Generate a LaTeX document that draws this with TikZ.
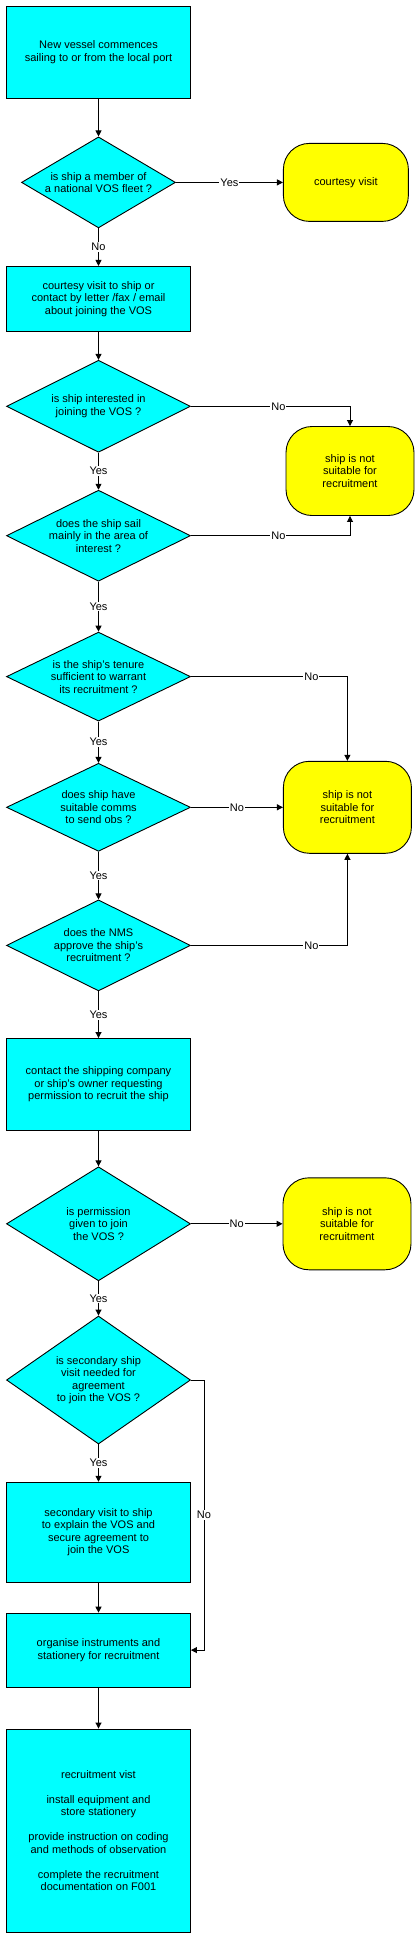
\documentclass[tikz,border=0pt]{standalone}
\usepackage{fontspec}
\setmainfont{Liberation Sans}
\usepackage{tikz}
\usetikzlibrary{arrows.meta,positioning,calc,shapes.geometric}
\definecolor{aqua}{RGB}{0,255,255}
\definecolor{lemon}{RGB}{255,255,0}

\begin{document}
\begin{tikzpicture}[font=\fontsize{11}{12.5}\selectfont,line width=0.9pt,
   act/.style={draw,fill=aqua,minimum width=184pt,inner sep=2pt,align=center},
   ask/.style={draw,fill=aqua,diamond,aspect=2,inner sep=0pt,minimum width=184pt,align=center},
   fin/.style={draw,fill=lemon,rounded corners=26pt,minimum width=128pt,minimum height=92pt,align=center},
   ans/.style={fill=white,inner sep=1pt},
   arr/.style={-{Triangle[length=6pt,width=6pt]}}]
  \useasboundingbox (0,0) rectangle (418pt,-1935pt);
  \node[act,minimum height=92pt] (start) at (98.5pt,-52pt) {New vessel commences\\sailing to or from the local port};
  \node[ask,minimum width=154pt,minimum height=91pt,below=38pt of start] (member) {is ship a member of\\a national VOS fleet ?};
  \node[act,minimum height=65pt,below=37.6pt of member] (visit) {courtesy visit to ship or\\contact by letter /fax / email\\about joining the VOS};
  \node[ask,minimum height=92pt,below=28pt of visit] (keen) {is ship interested in\\joining the VOS ?};
  \node[ask,minimum height=91pt,below=37pt of keen] (area) {does the ship sail\\mainly in the area of\\interest ?};
  \node[ask,minimum height=89pt,below=50pt of area] (tenure) {is the ship's tenure\\sufficient to warrant\\its recruitment ?};
  \node[ask,minimum height=88pt,below=41.3pt of tenure] (comms) {does ship have\\suitable comms\\to send obs ?};
  \node[ask,minimum height=91pt,below=47.7pt of comms] (nms) {does the NMS\\approve the ship's\\recruitment ?};
  \node[act,minimum height=92pt,below=46.7pt of nms] (owner) {contact the shipping company\\or ship's owner requesting\\permission to recruit the ship};
  \node[ask,minimum height=114pt,below=35.4pt of owner] (perm) {is permission\\given to join\\the VOS ?};
  \node[ask,minimum height=128pt,below=34.3pt of perm] (second) {is secondary ship\\visit needed for\\agreement\\to join the VOS ?};
  \node[act,minimum height=100pt,below=37.3pt of second] (revisit) {secondary visit to ship\\to explain the VOS and\\secure agreement to\\join the VOS};
  \node[act,minimum height=74pt,below=30pt of revisit] (kit) {organise instruments and\\stationery for recruitment};
  \node[act,minimum height=203pt,below=41pt of kit] (recruit) {recruitment vist\\[12.5pt]install equipment and\\store stationery\\[12.5pt]provide instruction on coding\\and methods of observation\\[12.5pt]complete the recruitment\\documentation on F001};

  \node[fin,minimum width=125pt,minimum height=78pt,right=107pt of member] (courtesy) {courtesy visit};
  \node[fin,minimum height=89pt] (reject1) at ($(keen)!0.5!(area)+(251.5pt,0)$) {ship is not\\suitable for\\recruitment};
  \node[fin,right=92pt of comms] (reject2) {ship is not\\suitable for\\recruitment};
  \node[fin,right=91.6pt of perm] (reject3) {ship is not\\suitable for\\recruitment};

  \draw[arr] (start) -- (member);
  \draw[arr] (member) -- node[ans]{Yes} (courtesy);
  \draw[arr] (member) -- node[ans]{No} (visit);
  \draw[arr] (visit) -- (keen);
  \draw[arr] (keen.east) -| node[ans,pos=0.275]{No} (reject1.north);
  \draw[arr] (keen) -- node[ans]{Yes} (area);
  \draw[arr] (area.east) -| node[ans,pos=0.275]{No} (reject1.south);
  \draw[arr] (area) -- node[ans]{Yes} (tenure);
  \draw[arr] (tenure.east) -| node[ans,pos=0.385]{No} (reject2.north);
  \draw[arr] (tenure) -- node[ans]{Yes} (comms);
  \draw[arr] (comms) -- node[ans]{No} (reject2);
  \draw[arr] (comms) -- node[ans]{Yes} (nms);
  \draw[arr] (nms.east) -| node[ans,pos=0.385]{No} (reject2.south);
  \draw[arr] (nms) -- node[ans]{Yes} (owner);
  \draw[arr] (owner) -- (perm);
  \draw[arr] (perm) -- node[ans]{No} (reject3);
  \draw[arr] (perm) -- node[ans]{Yes} (second);
  \draw[arr] (second) -- node[ans]{Yes} (revisit);
  \draw[arr] (second.east) -- ++(13pt,0) |- node[ans,pos=0.25]{No} (kit.east);
  \draw[arr] (revisit) -- (kit);
  \draw[arr] (kit) -- (recruit);
\end{tikzpicture}
\end{document}
